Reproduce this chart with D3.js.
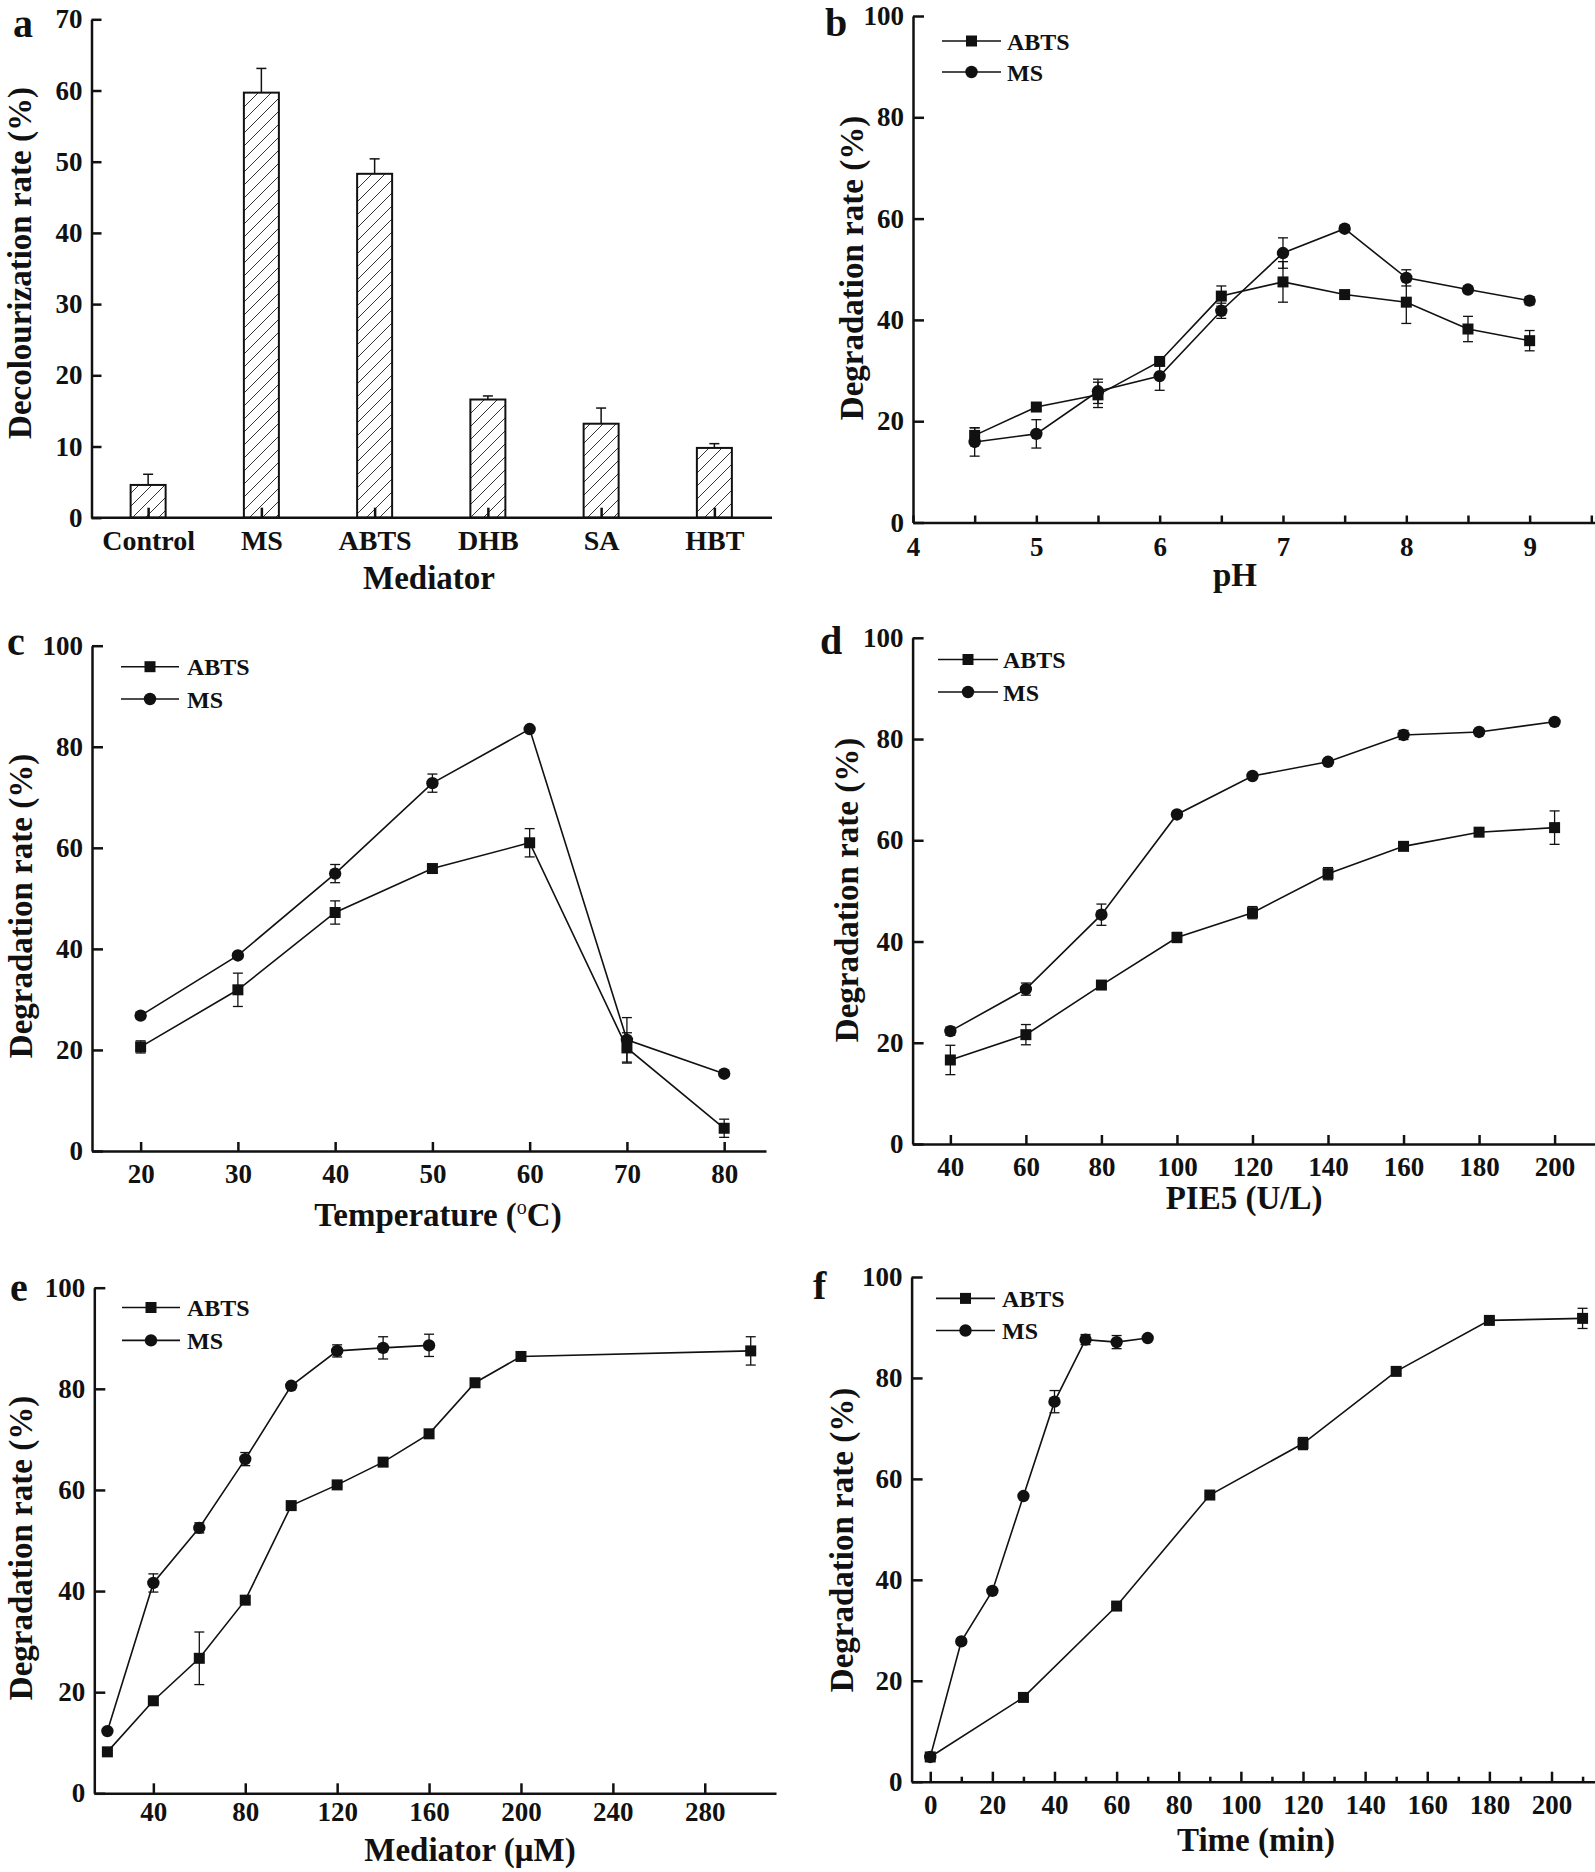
<!DOCTYPE html>
<html>
<head>
<meta charset="utf-8">
<script src="https://cdn.jsdelivr.net/npm/d3@7"></script>
<style>
body { margin: 0; background: #fff; }
svg text { font-family: "Liberation Serif", "Times New Roman", serif; font-weight: bold; fill: #111; }
</style>
</head>
<body>
<svg id="fig" width="1595" height="1872"></svg>
<script>
// ---- panel a : mediators ----
var barCats = ["Control", "MS", "ABTS", "DHB", "SA", "HBT"];
var barVals = [4.6, 59.7, 48.3, 16.6, 13.2, 9.8];
var barErr = [1.5, 3.4, 2.1, 0.5, 2.2, 0.6];

// ---- panel b : pH ----
var phX = [4.5, 5, 5.5, 6, 6.5, 7, 7.5, 8, 8.5, 9];
var phAbts = [17.2, 22.8, 25.2, 31.8, 44.7, 47.5, 45.0, 43.5, 38.2, 35.9];
var phAbtsErr = [1.5, 0.5, 2.5, 0.5, 2.0, 4.0, 0.5, 4.2, 2.5, 2.0];
var phMs = [15.9, 17.5, 25.9, 28.9, 41.8, 53.2, 58.0, 48.3, 46.0, 43.8];
var phMsErr = [2.8, 2.8, 2.4, 2.8, 1.5, 3.0, 0.6, 1.6, 0.6, 0.8];

// ---- panel c : temperature ----
var tempX = [20, 30, 40, 50, 60, 70, 80];
var tempAbts = [20.6, 31.9, 47.2, 55.9, 61.0, 20.4, 4.5];
var tempAbtsErr = [1.2, 3.3, 2.3, 0.8, 2.8, 3.0, 1.8];
var tempMs = [26.8, 38.7, 54.9, 72.8, 83.5, 22.0, 15.3];
var tempMsErr = [0.6, 0.5, 1.8, 1.8, 0.3, 4.4, 0.5];

// ---- panel d : PIE5 dose ----
var pieX = [40, 60, 80, 100, 120, 140, 160, 180, 200];
var pieAbts = [16.6, 21.6, 31.4, 40.8, 45.7, 53.4, 58.8, 61.6, 62.5];
var pieAbtsErr = [2.9, 2.0, 0.5, 1.0, 1.2, 1.2, 0.6, 0.5, 3.3];
var pieMs = [22.3, 30.6, 45.3, 65.1, 72.7, 75.5, 80.8, 81.4, 83.4];
var pieMsErr = [0.8, 1.2, 2.1, 0.6, 0.5, 0.5, 0.9, 0.4, 0.4];

// ---- panel e : mediator concentration ----
var medAbtsX = [20, 40, 60, 80, 100, 120, 140, 160, 180, 200, 300];
var medAbts = [8.2, 18.3, 26.7, 38.2, 56.9, 61.0, 65.5, 71.1, 81.2, 86.4, 87.5];
var medAbtsErr = [0.3, 0.5, 5.2, 0.5, 0.5, 0.5, 0.8, 0.5, 0.5, 0.5, 2.8];
var medMsX = [20, 40, 60, 80, 100, 120, 140, 160];
var medMs = [12.3, 41.6, 52.5, 66.1, 80.6, 87.5, 88.1, 88.6];
var medMsErr = [0.3, 1.8, 1.0, 1.3, 0.5, 1.2, 2.2, 2.2];

// ---- panel f : time ----
var timeAbtsX = [0, 30, 60, 90, 120, 150, 180, 210];
var timeAbts = [4.9, 16.7, 34.8, 56.8, 67.0, 81.3, 91.4, 91.8];
var timeAbtsErr = [0.3, 0.3, 0.3, 0.3, 1.2, 0.5, 0.3, 2.0];
var timeMsX = [0, 10, 20, 30, 40, 50, 60, 70];
var timeMs = [4.9, 27.8, 37.8, 56.6, 75.3, 87.6, 87.1, 87.9];
var timeMsErr = [0.3, 0.3, 0.3, 0.3, 2.2, 1.0, 1.3, 0.3];

var ink = "#111";
var svg = d3.select("#fig");

var defs = svg.append("defs");
var pat = defs.append("pattern")
  .attr("id", "hatch")
  .attr("patternUnits", "userSpaceOnUse")
  .attr("width", 13)
  .attr("height", 13);
pat.append("path")
  .attr("d", "M0,13 L13,0 M-2,2 L2,-2 M11,15 L15,11")
  .attr("stroke", "#333")
  .attr("stroke-width", 1);

function styleAxis(g, size) {
  g.attr("font-family", null);
  g.select(".domain").attr("stroke", ink).attr("stroke-width", 2.5);
  g.selectAll(".tick line").attr("stroke", ink).attr("stroke-width", 2.5);
  g.selectAll(".tick text").style("font-size", size + "px");
}

function letter(txt, x, y) {
  svg.append("text").attr("x", x).attr("y", y).style("font-size", "40px").text(txt);
}

function yTitle(txt, x, cy) {
  svg.append("text")
    .attr("transform", "translate(" + x + "," + cy + ") rotate(-90)")
    .attr("text-anchor", "middle")
    .style("font-size", "33px")
    .text(txt);
}

function xTitle(txt, cx, y) {
  return svg.append("text")
    .attr("x", cx).attr("y", y)
    .attr("text-anchor", "middle")
    .style("font-size", "33px")
    .text(txt);
}

// ================= panel a =================
(function() {
  var left = 91.5, right = 772, bottom = 517.7, top = 19.3;
  var x = d3.scalePoint().domain(barCats).range([left, 771]).padding(0.5);
  var y = d3.scaleLinear().domain([0, 70]).range([bottom, top]);
  var g = svg.append("g");
  var bw = 35;

  g.selectAll(".bar")
    .data(barCats)
    .enter()
    .append("rect")
    .attr("x", function(d) { return x(d) - bw / 2; })
    .attr("y", function(d, i) { return y(barVals[i]); })
    .attr("width", bw)
    .attr("height", function(d, i) { return bottom - y(barVals[i]); })
    .attr("fill", "url(#hatch)")
    .attr("stroke", ink)
    .attr("stroke-width", 2);

  // error bars (upper half only)
  barCats.forEach(function(d, i) {
    var cx = x(d);
    g.append("line").attr("x1", cx).attr("x2", cx)
      .attr("y1", y(barVals[i])).attr("y2", y(barVals[i] + barErr[i]))
      .attr("stroke", ink).attr("stroke-width", 1.5);
    g.append("line").attr("x1", cx - 5).attr("x2", cx + 5)
      .attr("y1", y(barVals[i] + barErr[i])).attr("y2", y(barVals[i] + barErr[i]))
      .attr("stroke", ink).attr("stroke-width", 1.5);
  });

  var ya = g.append("g")
    .attr("transform", "translate(" + left + ",0)")
    .call(d3.axisLeft(y).ticks(7).tickSizeInner(-10).tickSizeOuter(0).tickPadding(9));
  styleAxis(ya, 27);

  var xa = g.append("g")
    .attr("transform", "translate(0," + bottom + ")")
    .call(d3.axisBottom(x).tickSizeInner(-10).tickSizeOuter(0).tickPadding(12));
  xa.select(".domain").attr("d", "M" + left + ",0H" + right);
  styleAxis(xa, 28);

  letter("a", 13, 37);
  yTitle("Decolourization rate (%)", 31, 263);
  xTitle("Mediator", 429, 589);
})();

// ================= line panels =================
function linePanel(p) {
  var x = d3.scaleLinear().domain(p.xDomain).range([p.left, p.right]);
  var y = d3.scaleLinear().domain([0, 100]).range([p.bottom, p.top]);
  var g = svg.append("g");

  var ya = g.append("g")
    .attr("transform", "translate(" + p.left + ",0)")
    .call(d3.axisLeft(y).tickValues(d3.range(0, 101, 20)).tickSizeInner(-11).tickSizeOuter(0).tickPadding(9));
  styleAxis(ya, 27);

  if (p.minor) {
    g.append("g")
      .attr("transform", "translate(0," + p.bottom + ")")
      .call(d3.axisBottom(x).tickValues(p.minor).tickSizeInner(-p.minorSize).tickSizeOuter(0).tickFormat(""))
      .call(function(s) {
        s.select(".domain").remove();
        s.selectAll(".tick line").attr("stroke", ink).attr("stroke-width", 2.5);
      });
  }

  var xa = g.append("g")
    .attr("transform", "translate(0," + p.bottom + ")")
    .call(d3.axisBottom(x).tickValues(p.xTicks).tickFormat(d3.format("d"))
      .tickSizeInner(-p.tickSize).tickSizeOuter(0).tickPadding(p.pad));
  styleAxis(xa, 27);

  function series(xs, ys, es, shape) {
    var pts = xs.map(function(v, i) { return { x: v, y: ys[i], e: es[i] }; });
    var eb = g.append("g");
    pts.forEach(function(d) {
      var cx = x(d.x), y1 = y(d.y + d.e), y2 = y(d.y - d.e);
      eb.append("line").attr("x1", cx).attr("x2", cx).attr("y1", y1).attr("y2", y2)
        .attr("stroke", ink).attr("stroke-width", 1.3);
      [y1, y2].forEach(function(yy) {
        eb.append("line").attr("x1", cx - 5).attr("x2", cx + 5).attr("y1", yy).attr("y2", yy)
          .attr("stroke", ink).attr("stroke-width", 1.3);
      });
    });
    g.append("path")
      .datum(pts)
      .attr("d", d3.line().x(function(d) { return x(d.x); }).y(function(d) { return y(d.y); }))
      .attr("fill", "none")
      .attr("stroke", ink)
      .attr("stroke-width", 1.6);
    drawMarker(g, shape, pts.map(function(d) { return [x(d.x), y(d.y)]; }));
  }

  series(p.abtsX, p.abts, p.abtsErr, "square");
  series(p.msX, p.ms, p.msErr, "circle");

  // legend
  var lg = svg.append("g");
  [["ABTS", "square", p.leg[2]], ["MS", "circle", p.leg[3]]].forEach(function(r) {
    lg.append("line").attr("x1", p.leg[0]).attr("x2", p.leg[1]).attr("y1", r[2]).attr("y2", r[2])
      .attr("stroke", ink).attr("stroke-width", 1.6);
    drawMarker(lg, r[1], [[(p.leg[0] + p.leg[1]) / 2, r[2]]]);
    lg.append("text").attr("x", p.leg[4]).attr("y", r[2] + 8.5)
      .style("font-size", "24px").text(r[0]);
  });

  letter(p.letter[0], p.letter[1], p.letter[2]);
  yTitle("Degradation rate (%)", p.yTitle[0], p.yTitle[1]);
  return xTitle(p.xTitle[0], p.xTitle[1], p.xTitle[2]);
}

function drawMarker(g, shape, pts) {
  if (shape == "square") {
    g.selectAll(null).data(pts).enter().append("rect")
      .attr("x", function(d) { return d[0] - 5.5; })
      .attr("y", function(d) { return d[1] - 5.5; })
      .attr("width", 11).attr("height", 11)
      .attr("fill", ink);
  } else {
    g.selectAll(null).data(pts).enter().append("circle")
      .attr("cx", function(d) { return d[0]; })
      .attr("cy", function(d) { return d[1]; })
      .attr("r", 6.2)
      .attr("fill", ink);
  }
}

// b
linePanel({
  left: 913, right: 1595, bottom: 522.5, top: 16, xDomain: [4, 9.53],
  xTicks: [4, 5, 6, 7, 8, 9], tickSize: 7, pad: 14,
  minor: [4.5, 5.5, 6.5, 7.5, 8.5, 9.5], minorSize: 7,
  abtsX: phX, abts: phAbts, abtsErr: phAbtsErr,
  msX: phX, ms: phMs, msErr: phMsErr,
  leg: [942, 1001, 41, 72, 1007],
  letter: ["b", 825, 36], yTitle: [863, 268], xTitle: ["pH", 1235, 586]
});

// c
var tTitle = linePanel({
  left: 92, right: 766, bottom: 1151, top: 645.7, xDomain: [15, 84.3],
  xTicks: [20, 30, 40, 50, 60, 70, 80], tickSize: 9, pad: 13,
  abtsX: tempX, abts: tempAbts, abtsErr: tempAbtsErr,
  msX: tempX, ms: tempMs, msErr: tempMsErr,
  leg: [121, 179, 666.7, 699, 187],
  letter: ["c", 7, 655], yTitle: [32, 906], xTitle: ["", 438, 1226]
});
tTitle.append("tspan").text("Temperature (");
tTitle.append("tspan").attr("dy", -12).style("font-size", "20px").style("font-weight", "normal").text("o");
tTitle.append("tspan").attr("dy", 12).text("C)");

// d
linePanel({
  left: 912.6, right: 1595, bottom: 1144, top: 637.8, xDomain: [30, 210.7],
  xTicks: d3.range(40, 201, 20), tickSize: 9, pad: 13,
  abtsX: pieX, abts: pieAbts, abtsErr: pieAbtsErr,
  msX: pieX, ms: pieMs, msErr: pieMsErr,
  leg: [938, 998, 659.5, 692, 1003],
  letter: ["d", 820, 654], yTitle: [858, 890], xTitle: ["PIE5 (U/L)", 1244, 1209]
});

// e
linePanel({
  left: 94.3, right: 776, bottom: 1793.3, top: 1287.7, xDomain: [14.3, 311],
  xTicks: d3.range(40, 281, 40), tickSize: 10, pad: 9,
  abtsX: medAbtsX, abts: medAbts, abtsErr: medAbtsErr,
  msX: medMsX, ms: medMs, msErr: medMsErr,
  leg: [122, 180, 1307.5, 1340.4, 187],
  letter: ["e", 10, 1301], yTitle: [32, 1548], xTitle: ["Mediator (\u03bcM)", 470, 1861]
});

// f
linePanel({
  left: 911.6, right: 1595, bottom: 1781.7, top: 1277, xDomain: [-6, 214],
  xTicks: d3.range(0, 201, 20), tickSize: 10, pad: 13,
  minor: d3.range(10, 211, 20), minorSize: 5,
  abtsX: timeAbtsX, abts: timeAbts, abtsErr: timeAbtsErr,
  msX: timeMsX, ms: timeMs, msErr: timeMsErr,
  leg: [936, 995, 1298.4, 1330.5, 1002],
  letter: ["f", 813, 1299], yTitle: [853, 1540], xTitle: ["Time (min)", 1256, 1851]
});
</script>
</body>
</html>
